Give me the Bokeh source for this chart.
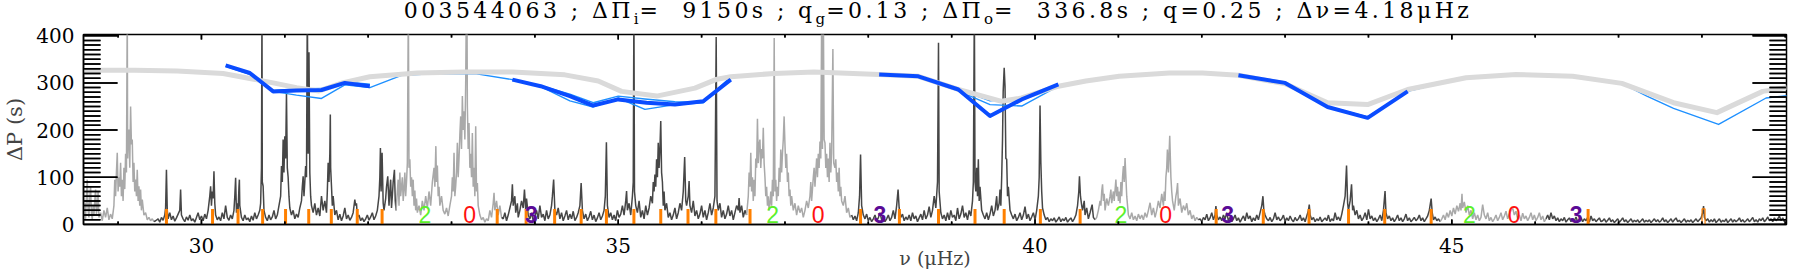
from bokeh.plotting import figure
from bokeh.models import Range1d, SingleIntervalTicker, ColumnDataSource, Div
from bokeh.layouts import column
from bokeh.core.properties import value
from bokeh.embed import file_html
from bokeh.resources import INLINE

NAN = float("nan")

# ---------------- data ----------------
# power spectrum, split in segments; kind "l02" = radial/quadrupole region (light), "l1" = dipole region (dark)
SEG_KIND = ["l02", "l1", "l02", "l1", "l02", "l1", "l02", "l1", "l02", "l1"]

SEG_0 = [(28.585, 15), (28.59, 20), (28.60, 45), (28.61, 12), (28.62, 60), (28.63, 95), (28.64, 30), (28.65, 15), (28.66, 55), (28.67, 81), (28.68, 25), (28.69, 10), (28.70, 40), (28.71, 18), (28.72, 50), (28.73, 74), (28.74, 22), (28.75, 35), (28.76, 71), (28.77, 15), (28.79, 25), (28.81, 8), (28.83, 30), (28.85, 15), (28.87, 35), (28.89, 10), (28.91, 22), (28.93, 12), (28.95, 40), (28.96, 95), (28.97, 60), (28.98, 110), (28.99, 152), (29.00, 70), (29.01, 100), (29.02, 80), (29.03, 131), (29.04, 60), (29.05, 95), (29.06, 50), (29.07, 120), (29.08, 75), (29.09, 150), (29.10, 110), (29.11, 460), (29.115, 140), (29.12, 180), (29.13, 201), (29.14, 120), (29.15, 250), (29.16, 170), (29.17, 180), (29.18, 90), (29.19, 131), (29.20, 70), (29.21, 95), (29.22, 60), (29.23, 116), (29.24, 50), (29.25, 81), (29.26, 40), (29.27, 74), (29.28, 30), (29.29, 53), (29.31, 20), (29.33, 25), (29.35, 10), (29.37, 15), (29.39, 8), (29.41, 12), (29.43, 6)]

SEG_1 = [(29.45, 8), (29.48, 12), (29.50, 5), (29.52, 15), (29.54, 9), (29.56, 20), (29.57, 35), (29.58, 116), (29.59, 30), (29.60, 12), (29.62, 25), (29.64, 10), (29.66, 18), (29.68, 7), (29.70, 14), (29.72, 22), (29.74, 30), (29.75, 74), (29.76, 20), (29.78, 12), (29.80, 6), (29.82, 16), (29.84, 9), (29.86, 20), (29.88, 8), (29.90, 12), (29.92, 5), (29.94, 15), (29.96, 25), (29.98, 10), (30.00, 18), (30.02, 8), (30.04, 22), (30.06, 12), (30.08, 30), (30.10, 60), (30.11, 81), (30.12, 40), (30.13, 70), (30.14, 55), (30.15, 113), (30.16, 45), (30.17, 20), (30.19, 10), (30.21, 16), (30.23, 8), (30.25, 25), (30.27, 12), (30.29, 40), (30.31, 15), (30.33, 9), (30.35, 20), (30.37, 12), (30.39, 30), (30.40, 60), (30.41, 99), (30.42, 25), (30.43, 45), (30.44, 30), (30.45, 80), (30.455, 95), (30.46, 40), (30.48, 15), (30.50, 8), (30.52, 20), (30.54, 10), (30.56, 14), (30.58, 6), (30.60, 18), (30.62, 9), (30.64, 25), (30.66, 12), (30.68, 20), (30.70, 30), (30.71, 45), (30.72, 120), (30.726, 470), (30.73, 90), (30.74, 81), (30.75, 30), (30.77, 15), (30.79, 8), (30.81, 20), (30.83, 10), (30.85, 16), (30.87, 30), (30.89, 12), (30.91, 20), (30.93, 40), (30.95, 60), (30.96, 124), (30.97, 90), (30.98, 180), (30.99, 110), (31.00, 187), (31.01, 140), (31.02, 279), (31.03, 120), (31.04, 100), (31.05, 60), (31.06, 35), (31.08, 20), (31.10, 30), (31.12, 12), (31.14, 22), (31.16, 15), (31.18, 35), (31.20, 50), (31.21, 80), (31.22, 102), (31.23, 60), (31.24, 90), (31.25, 124), (31.26, 100), (31.27, 470), (31.28, 150), (31.29, 365), (31.30, 110), (31.31, 60), (31.32, 40), (31.34, 25), (31.36, 45), (31.38, 20), (31.40, 35), (31.42, 18), (31.44, 60), (31.46, 30), (31.48, 50), (31.50, 25), (31.51, 70), (31.52, 131), (31.53, 90), (31.54, 150), (31.546, 233), (31.55, 120), (31.56, 81), (31.57, 40), (31.58, 60), (31.60, 20), (31.62, 30), (31.64, 10), (31.66, 22), (31.68, 8), (31.70, 18), (31.72, 35), (31.74, 12), (31.76, 20), (31.78, 9), (31.80, 15), (31.82, 25), (31.84, 53), (31.85, 40), (31.86, 45), (31.87, 15), (31.89, 20), (31.91, 8), (31.93, 14), (31.95, 6), (31.97, 12), (31.99, 20), (32.01, 9), (32.03, 16), (32.05, 25), (32.07, 10), (32.09, 18), (32.11, 30), (32.13, 60), (32.14, 100), (32.147, 162), (32.155, 70), (32.167, 152), (32.18, 45), (32.19, 30), (32.21, 55), (32.22, 80), (32.235, 102), (32.25, 40), (32.26, 70), (32.27, 95), (32.28, 35), (32.29, 60), (32.30, 90), (32.315, 116), (32.325, 50), (32.335, 30)]

SEG_2 = [(32.35, 70), (32.36, 95), (32.37, 40), (32.38, 110), (32.39, 60), (32.40, 80), (32.41, 100), (32.42, 50), (32.43, 75), (32.44, 110), (32.45, 60), (32.46, 90), (32.47, 130), (32.482, 470), (32.49, 120), (32.50, 138), (32.51, 80), (32.52, 100), (32.53, 60), (32.54, 95), (32.55, 40), (32.56, 72), (32.57, 30), (32.58, 55), (32.59, 25), (32.61, 40), (32.63, 20), (32.65, 50), (32.67, 30), (32.69, 60), (32.71, 35), (32.73, 70), (32.75, 40), (32.77, 90), (32.79, 120), (32.80, 80), (32.812, 166), (32.82, 90), (32.83, 125), (32.84, 60), (32.85, 80), (32.86, 40), (32.88, 60), (32.90, 30), (32.92, 22), (32.94, 35), (32.96, 18), (32.98, 40), (33.00, 60), (33.01, 100), (33.02, 70), (33.03, 152), (33.04, 60), (33.05, 81), (33.06, 110), (33.07, 173), (33.08, 100), (33.09, 140), (33.10, 190), (33.11, 229), (33.12, 160), (33.13, 272), (33.14, 200), (33.15, 240), (33.16, 180), (33.17, 300), (33.178, 470), (33.185, 470), (33.19, 251), (33.20, 160), (33.21, 215), (33.22, 120), (33.23, 150), (33.24, 100), (33.25, 194), (33.26, 80), (33.27, 120), (33.28, 60), (33.29, 208), (33.30, 70), (33.31, 88), (33.32, 40), (33.34, 20), (33.36, 10), (33.38, 15), (33.40, 5), (33.42, 12), (33.44, 8), (33.46, 30), (33.48, 15), (33.50, 45), (33.51, 67), (33.52, 30), (33.54, 50), (33.56, 20), (33.58, 40), (33.60, 15)]

SEG_3 = [(33.62, 12), (33.64, 25), (33.66, 8), (33.68, 20), (33.70, 35), (33.72, 50), (33.73, 85), (33.74, 40), (33.76, 60), (33.77, 25), (33.79, 45), (33.80, 15), (33.82, 30), (33.84, 50), (33.86, 35), (33.875, 74), (33.89, 30), (33.90, 55), (33.92, 20), (33.94, 12), (33.96, 25), (33.98, 8), (34.00, 18), (34.02, 30), (34.04, 12), (34.06, 40), (34.08, 15), (34.10, 22), (34.12, 8), (34.14, 30), (34.16, 12), (34.18, 20), (34.20, 40), (34.21, 60), (34.225, 95), (34.24, 30), (34.26, 20), (34.28, 35), (34.30, 12), (34.32, 25), (34.34, 8), (34.36, 18), (34.38, 30), (34.40, 10), (34.42, 22), (34.44, 12), (34.46, 28), (34.48, 8), (34.50, 15), (34.52, 25), (34.54, 40), (34.555, 88), (34.57, 30), (34.59, 12), (34.61, 22), (34.63, 8), (34.65, 16), (34.67, 28), (34.69, 10), (34.71, 20), (34.73, 6), (34.75, 14), (34.77, 25), (34.79, 10), (34.81, 18), (34.83, 30), (34.845, 60), (34.858, 174), (34.87, 40), (34.89, 15), (34.91, 25), (34.93, 10), (34.95, 20), (34.97, 8), (34.99, 30), (35.01, 15), (35.03, 22), (35.05, 40), (35.07, 20), (35.09, 50), (35.10, 71), (35.11, 30), (35.13, 45), (35.15, 20), (35.17, 60), (35.18, 90), (35.188, 470), (35.195, 70), (35.21, 40), (35.23, 25), (35.25, 50), (35.27, 15), (35.29, 30), (35.31, 12), (35.33, 40), (35.35, 20), (35.37, 35), (35.39, 60), (35.41, 45), (35.42, 90), (35.43, 70), (35.44, 106), (35.45, 80), (35.46, 138), (35.47, 100), (35.48, 173), (35.49, 120), (35.50, 160), (35.51, 219), (35.52, 110), (35.53, 90), (35.54, 40), (35.55, 70), (35.56, 30), (35.58, 45), (35.60, 15), (35.62, 25), (35.64, 10), (35.66, 20), (35.68, 35), (35.70, 12), (35.72, 25), (35.74, 45), (35.76, 30), (35.78, 70), (35.797, 143), (35.81, 50), (35.82, 40), (35.84, 60), (35.85, 92), (35.86, 40), (35.88, 25), (35.90, 50), (35.92, 18), (35.94, 30), (35.96, 12), (35.98, 22), (36.00, 40), (36.02, 15), (36.04, 30), (36.06, 10), (36.08, 25), (36.10, 45), (36.12, 20), (36.14, 35), (36.16, 60), (36.175, 397), (36.185, 50), (36.20, 30), (36.22, 45), (36.24, 15), (36.26, 30), (36.28, 12), (36.30, 22), (36.32, 40), (36.34, 18), (36.36, 30), (36.38, 10), (36.40, 25), (36.42, 40), (36.44, 30), (36.45, 56), (36.46, 25), (36.48, 40), (36.50, 15), (36.52, 30), (36.54, 20)]

SEG_4 = [(36.56, 60), (36.57, 110), (36.58, 80), (36.59, 152), (36.60, 70), (36.61, 100), (36.62, 50), (36.63, 95), (36.64, 60), (36.65, 140), (36.66, 120), (36.67, 224), (36.68, 130), (36.69, 170), (36.70, 180), (36.71, 120), (36.72, 160), (36.73, 140), (36.74, 205), (36.75, 130), (36.76, 100), (36.77, 60), (36.78, 80), (36.79, 40), (36.80, 60), (36.81, 30), (36.82, 45), (36.83, 70), (36.84, 40), (36.85, 95), (36.86, 60), (36.871, 395), (36.88, 70), (36.89, 95), (36.90, 50), (36.91, 80), (36.92, 60), (36.93, 120), (36.94, 90), (36.95, 159), (36.96, 110), (36.97, 150), (36.98, 180), (36.99, 229), (37.00, 170), (37.01, 120), (37.02, 150), (37.03, 90), (37.04, 110), (37.05, 60), (37.06, 74), (37.07, 40), (37.08, 60), (37.10, 30), (37.12, 45), (37.14, 20), (37.16, 40), (37.18, 25), (37.20, 35), (37.22, 15), (37.24, 30), (37.26, 50), (37.28, 35), (37.30, 60), (37.31, 90), (37.32, 50), (37.33, 75), (37.34, 100), (37.35, 120), (37.36, 80), (37.37, 110), (37.38, 140), (37.39, 100), (37.40, 150), (37.41, 120), (37.42, 176), (37.43, 140), (37.441, 470), (37.45, 160), (37.46, 470), (37.47, 180), (37.48, 173), (37.49, 120), (37.50, 150), (37.51, 100), (37.52, 140), (37.53, 90), (37.54, 173), (37.55, 110), (37.56, 150), (37.575, 372), (37.585, 130), (37.60, 120), (37.61, 138), (37.62, 90), (37.63, 110), (37.64, 70), (37.65, 120), (37.66, 60), (37.67, 80), (37.68, 50), (37.70, 40), (37.72, 60), (37.74, 25), (37.76, 35), (37.78, 15), (37.80, 20)]

SEG_5 = [(37.82, 10), (37.84, 18), (37.86, 8), (37.88, 25), (37.895, 60), (37.907, 148), (37.92, 40), (37.94, 20), (37.96, 12), (37.98, 22), (38.00, 8), (38.02, 15), (38.04, 6), (38.06, 12), (38.08, 20), (38.10, 8), (38.12, 14), (38.14, 25), (38.16, 10), (38.18, 18), (38.20, 6), (38.22, 12), (38.24, 20), (38.26, 8), (38.28, 15), (38.30, 30), (38.32, 12), (38.34, 40), (38.357, 74), (38.37, 35), (38.39, 15), (38.41, 22), (38.43, 8), (38.45, 16), (38.47, 10), (38.49, 20), (38.51, 8), (38.53, 25), (38.55, 12), (38.57, 18), (38.59, 6), (38.61, 14), (38.63, 22), (38.65, 10), (38.67, 30), (38.69, 12), (38.71, 20), (38.73, 38), (38.75, 15), (38.77, 30), (38.79, 60), (38.81, 35), (38.83, 90), (38.842, 385), (38.85, 70), (38.87, 25), (38.89, 12), (38.91, 20), (38.93, 8), (38.95, 25), (38.97, 10), (38.99, 30), (39.01, 15), (39.03, 20), (39.05, 8), (39.07, 35), (39.09, 12), (39.11, 22), (39.13, 40), (39.15, 15), (39.17, 25), (39.19, 10), (39.21, 30), (39.23, 18), (39.25, 50), (39.26, 90), (39.272, 470), (39.28, 90), (39.29, 70), (39.30, 120), (39.31, 60), (39.32, 138), (39.33, 50), (39.34, 80), (39.36, 30), (39.38, 20), (39.40, 12), (39.42, 25), (39.44, 10), (39.46, 22), (39.48, 40), (39.50, 18), (39.52, 30), (39.54, 60), (39.55, 30), (39.57, 45), (39.58, 74), (39.59, 40), (39.60, 100), (39.61, 180), (39.618, 282), (39.63, 332), (39.64, 293), (39.65, 140), (39.66, 138), (39.67, 60), (39.68, 80), (39.70, 30), (39.72, 20), (39.74, 12), (39.76, 22), (39.78, 8), (39.80, 15), (39.82, 25), (39.84, 10), (39.86, 20), (39.88, 38), (39.90, 12), (39.92, 22), (39.94, 8), (39.96, 16), (39.98, 25), (40.00, 10), (40.02, 30), (40.04, 60), (40.05, 100), (40.06, 252), (40.07, 130), (40.08, 70), (40.09, 35), (40.11, 20), (40.13, 10), (40.15, 15), (40.17, 6), (40.19, 12), (40.21, 8), (40.23, 14), (40.25, 5), (40.27, 10), (40.29, 16), (40.31, 6), (40.33, 12), (40.35, 8), (40.37, 15), (40.39, 5), (40.41, 10), (40.43, 14), (40.45, 6), (40.47, 12), (40.49, 20), (40.51, 40), (40.525, 70), (40.533, 102), (40.545, 60), (40.56, 40), (40.57, 30), (40.59, 50), (40.60, 20), (40.62, 35), (40.64, 12), (40.66, 25), (40.685, 42), (40.70, 15), (40.72, 10)]

SEG_6 = [(40.74, 15), (40.76, 30), (40.78, 50), (40.79, 40), (40.80, 70), (40.81, 85), (40.82, 50), (40.83, 65), (40.84, 30), (40.86, 55), (40.88, 40), (40.90, 60), (40.91, 74), (40.92, 45), (40.94, 70), (40.95, 50), (40.97, 95), (40.98, 60), (40.99, 80), (41.00, 50), (41.01, 70), (41.02, 45), (41.03, 90), (41.04, 60), (41.05, 100), (41.06, 124), (41.07, 90), (41.08, 141), (41.09, 100), (41.10, 60), (41.11, 40), (41.12, 20), (41.14, 12), (41.16, 25), (41.18, 10), (41.20, 18), (41.22, 8), (41.24, 22), (41.26, 12), (41.28, 20), (41.30, 10), (41.32, 25), (41.34, 15), (41.36, 30), (41.38, 46), (41.40, 20), (41.42, 35), (41.44, 15), (41.46, 30), (41.48, 50), (41.50, 35), (41.52, 65), (41.54, 40), (41.55, 70), (41.56, 50), (41.57, 100), (41.58, 120), (41.588, 159), (41.60, 110), (41.616, 188), (41.63, 100), (41.64, 70), (41.65, 50), (41.67, 30), (41.69, 60), (41.70, 70), (41.71, 88), (41.72, 40), (41.74, 55), (41.76, 25), (41.78, 40), (41.80, 30), (41.82, 45), (41.84, 20), (41.86, 30), (41.88, 12), (41.90, 20), (41.92, 8), (41.94, 15), (41.96, 10)]

SEG_7 = [(41.98, 12), (42.00, 6), (42.02, 15), (42.04, 10), (42.06, 22), (42.08, 8), (42.10, 14), (42.12, 25), (42.14, 10), (42.16, 20), (42.17, 39), (42.18, 20), (42.20, 10), (42.22, 16), (42.24, 8), (42.26, 20), (42.28, 12), (42.30, 25), (42.32, 8), (42.34, 15), (42.36, 6), (42.38, 12), (42.40, 20), (42.42, 8), (42.44, 14), (42.46, 5), (42.48, 12), (42.50, 18), (42.52, 8), (42.54, 25), (42.56, 12), (42.58, 18), (42.60, 6), (42.62, 14), (42.64, 8), (42.66, 20), (42.68, 10), (42.70, 25), (42.72, 40), (42.734, 60), (42.745, 30), (42.76, 20), (42.78, 12), (42.80, 8), (42.82, 15), (42.84, 6), (42.86, 12), (42.88, 25), (42.90, 10), (42.92, 16), (42.94, 8), (42.96, 12), (42.98, 20), (43.00, 6), (43.02, 14), (43.04, 8), (43.06, 18), (43.08, 10), (43.10, 6), (43.12, 15), (43.14, 8), (43.16, 12), (43.18, 20), (43.20, 8), (43.22, 14), (43.24, 6), (43.26, 18), (43.28, 30), (43.29, 42), (43.30, 20), (43.32, 10), (43.34, 15), (43.36, 6), (43.38, 12), (43.40, 8), (43.42, 16), (43.44, 6), (43.46, 10), (43.48, 14), (43.50, 8), (43.52, 20), (43.54, 6), (43.56, 12), (43.58, 8), (43.60, 25), (43.62, 10), (43.64, 16), (43.66, 8), (43.68, 22), (43.70, 40), (43.72, 60), (43.737, 125), (43.75, 45), (43.76, 30), (43.78, 50), (43.797, 85), (43.81, 30), (43.82, 40), (43.84, 20), (43.86, 30), (43.88, 12), (43.90, 20), (43.92, 8), (43.94, 14), (43.96, 25), (43.98, 10), (44.00, 32), (44.02, 12), (44.04, 18), (44.06, 8), (44.08, 14), (44.10, 6), (44.12, 12), (44.14, 20), (44.16, 8), (44.18, 30), (44.199, 71), (44.21, 25), (44.23, 12), (44.25, 18), (44.27, 8), (44.29, 14), (44.31, 6), (44.33, 12), (44.35, 20), (44.37, 8), (44.39, 14), (44.41, 6), (44.43, 12), (44.45, 22), (44.47, 8), (44.49, 14), (44.51, 6), (44.53, 10), (44.55, 15), (44.57, 8), (44.59, 12), (44.61, 20), (44.63, 8), (44.65, 14), (44.67, 6), (44.69, 12), (44.71, 18), (44.73, 30), (44.752, 55), (44.765, 25), (44.78, 10), (44.80, 16), (44.82, 8), (44.84, 12), (44.86, 6)]

SEG_8 = [(44.88, 12), (44.90, 20), (44.92, 10), (44.94, 25), (44.96, 15), (44.98, 30), (45.00, 18), (45.02, 35), (45.04, 22), (45.06, 40), (45.08, 28), (45.10, 45), (45.11, 30), (45.122, 65), (45.13, 35), (45.15, 48), (45.17, 25), (45.19, 40), (45.21, 20), (45.23, 30), (45.25, 12), (45.27, 25), (45.29, 10), (45.31, 20), (45.33, 8), (45.35, 15), (45.37, 42), (45.39, 20), (45.41, 12), (45.43, 25), (45.45, 8), (45.47, 15), (45.49, 6), (45.51, 12), (45.53, 20), (45.55, 8), (45.57, 15), (45.59, 25), (45.61, 10), (45.63, 18), (45.65, 28), (45.67, 12), (45.69, 22), (45.71, 30), (45.73, 35), (45.75, 20), (45.77, 28), (45.79, 12), (45.81, 20), (45.83, 8), (45.85, 24), (45.87, 12), (45.89, 18), (45.91, 8), (45.93, 15), (45.95, 25), (45.97, 10), (45.99, 20), (46.01, 8), (46.03, 15), (46.05, 25), (46.07, 10), (46.09, 18), (46.11, 6), (46.13, 12)]

SEG_9 = [(46.15, 20), (46.17, 10), (46.19, 25), (46.21, 12), (46.23, 18), (46.25, 8), (46.27, 14), (46.29, 6), (46.31, 12), (46.33, 8), (46.35, 15), (46.37, 5), (46.39, 10), (46.41, 14), (46.43, 6), (46.45, 12), (46.47, 8), (46.49, 16), (46.51, 6), (46.53, 10), (46.55, 14), (46.57, 6), (46.59, 12), (46.61, 8), (46.63, 15), (46.65, 5), (46.67, 18), (46.69, 8), (46.71, 12), (46.73, 6), (46.75, 10), (46.77, 14), (46.79, 6), (46.81, 8), (46.83, 12), (46.85, 5), (46.87, 9), (46.89, 14), (46.91, 6), (46.93, 10), (46.95, 4), (46.97, 8), (46.99, 12), (47.01, 5), (47.03, 9), (47.05, 14), (47.07, 6), (47.09, 10), (47.11, 4), (47.13, 8), (47.15, 12), (47.17, 5), (47.19, 9), (47.21, 6), (47.23, 10), (47.25, 4), (47.27, 8), (47.29, 12), (47.31, 5), (47.33, 9), (47.35, 6), (47.37, 10), (47.39, 4), (47.41, 8), (47.43, 12), (47.45, 6), (47.47, 10), (47.49, 5), (47.51, 8), (47.53, 14), (47.55, 6), (47.57, 10), (47.59, 4), (47.61, 8), (47.63, 12), (47.65, 5), (47.67, 10), (47.69, 14), (47.71, 6), (47.73, 9), (47.75, 4), (47.77, 8), (47.79, 12), (47.81, 5), (47.83, 9), (47.85, 6), (47.87, 10), (47.89, 4), (47.91, 8), (47.93, 12), (47.95, 6), (47.97, 10), (47.99, 14), (48.01, 25), (48.02, 39), (48.03, 15), (48.05, 8), (48.07, 12), (48.09, 5), (48.11, 10), (48.13, 6), (48.15, 12), (48.17, 4), (48.19, 8), (48.21, 12), (48.23, 5), (48.25, 9), (48.27, 6), (48.29, 12), (48.31, 4), (48.33, 8), (48.35, 12), (48.37, 5), (48.39, 10), (48.41, 6), (48.43, 9), (48.45, 14), (48.47, 6), (48.49, 10), (48.51, 5), (48.53, 8), (48.55, 12), (48.57, 6), (48.59, 10), (48.61, 15), (48.63, 6), (48.65, 10), (48.67, 5), (48.69, 12), (48.71, 8), (48.73, 14), (48.75, 6), (48.77, 10), (48.79, 16), (48.81, 8), (48.83, 12), (48.85, 6), (48.87, 14), (48.89, 8), (48.91, 12), (48.93, 18), (48.95, 8), (48.97, 14), (48.99, 6), (49.01, 12)]

SEGMENTS = [SEG_0, SEG_1, SEG_2, SEG_3, SEG_4, SEG_5, SEG_6, SEG_7, SEG_8, SEG_9]

# expected dipole mixed-mode frequencies (orange marks)
MIXED_NU = [29.580, 30.133, 30.439, 30.734, 31.009, 31.287, 31.558, 31.869, 32.167, 33.548, 33.895, 34.237,
            34.555, 34.858, 35.188, 35.510, 35.837, 36.171, 36.581, 37.907, 38.373, 38.842, 39.280, 39.630,
            40.064, 40.541, 42.173, 42.738, 43.287, 43.761, 44.195, 44.752, 46.635]
MIXED_NU_OPEN = [48.020]
MIXED_HEIGHT = 33

# degree labels
DEG_NU = [32.681, 33.218, 33.958, 36.851, 37.397, 38.138, 41.031, 41.568, 42.312, 45.210, 45.747, 46.492]
DEG_L = ["2", "0", "3", "2", "0", "3", "2", "0", "3", "2", "0", "3"]
DEG_Y = 21

# period spacing: model (grey), observed (thick blue), other components (thin blue)
MODEL_NU = [28.585, 29.20, 29.71, 30.26, 30.86, 31.14, 31.41, 31.69, 32.02, 32.59, 33.15, 33.73, 34.36, 34.76, 35.04,
            35.46, 35.92, 36.17, 36.35, 36.87, 37.35, 38.13, 38.60, 39.08, 39.60, 39.84, 40.28, 40.61, 41.01, 41.61,
            42.01, 42.44, 43.00, 43.51, 43.99, 44.47, 45.17, 45.77, 46.45, 47.04, 47.66, 48.18, 48.73, 49.02]
MODEL_DP = [327, 327, 325, 320, 300, 290, 283, 300, 313, 321, 323, 323, 317, 304, 282,
            272, 289, 307, 313, 320, 323, 318, 314, 286, 261, 268, 293, 304, 314, 321,
            321, 316, 298, 258, 254, 286, 311, 318, 314, 299, 258, 237, 282, 290]

OBS_NU = [30.29, 30.58, 30.86, 31.14, 31.44, 31.72, 32.02, NAN,
          33.73, 34.07, 34.42, 34.70, 35.00, 35.34, 35.68, 36.02, 36.35, NAN,
          38.13, 38.60, 39.08, 39.46, 39.84, 40.28, NAN,
          42.44, 43.00, 43.51, 43.99, 44.47]
OBS_DP = [337, 321, 282, 284, 285, 300, 293, NAN,
          307, 293, 272, 252, 265, 258, 254, 261, 307, NAN,
          318, 314, 286, 230, 265, 297, NAN,
          316, 300, 249, 226, 282]

THIN_A_NU = [30.29, 30.58, 30.86, 31.14, 31.44, 31.72, 32.02, 32.40, 32.83, 33.30, 33.73, 34.07, 34.42, 34.70, 35.00,
             35.32, 35.68, 36.02, 36.35, 36.87, 37.35, 38.13, 38.60, 39.08, 39.46, 39.84, 40.28, 40.61, 41.01, 41.61,
             42.01, 42.44, 43.00, 43.51, 43.99, 44.47, 45.17, 45.77, 46.45, 47.04, 47.34, 47.66, 48.20, 48.77, 49.02]
THIN_A_DP = [335, 318, 282, 274, 267, 296, 290, 316, 320, 319, 307, 292, 262, 249, 268,
             244, 254, 258, 313, 320, 322, 317, 313, 283, 254, 251, 293, 305, 316, 322,
             322, 314, 298, 250, 228, 282, 312, 318, 315, 299, 272, 246, 212, 268, 273]

THIN_B_NU = [30.86, 31.14, 31.44, 31.72, 32.02, NAN, 33.73, 34.07, 34.42, 34.70, 35.00, 35.32, 35.68, 36.02, 36.35, NAN,
             38.60, 39.08, 39.46, 39.84, 40.28]
THIN_B_DP = [284, 287, 288, 302, 297, NAN, 307, 294, 276, 258, 272, 266, 260, 259, 309, NAN,
             314, 287, 262, 268, 295]

# title values
STAR_ID = "003544063"
DPI_IN, QG, DPI_OUT, Q, DNU = "9150s", "0.13", "336.8s", "0.25", "4.18"

# ---------------- layout constants ----------------
X0, X1 = 28.585, 49.015
Y0, Y1 = 0.0, 402.5
FRAME_W, FRAME_H = 1703, 190
SERIF = "DejaVu Serif"

p = figure(frame_width=FRAME_W, frame_height=FRAME_H, x_range=Range1d(X0, X1), y_range=Range1d(Y0, Y1),
           output_backend="svg", toolbar_location=None, title=None,
           min_border_left=78, min_border_right=2, min_border_top=12, min_border_bottom=47,
           background_fill_color="white", border_fill_color=None)
p.xgrid.visible = False
p.ygrid.visible = False
p.outline_line_color = "black"
p.outline_line_width = 1.5

xa = p.xaxis[0]
xa.ticker = SingleIntervalTicker(interval=5, num_minor_ticks=5)
xa.major_tick_in = 0
xa.major_tick_out = 0
xa.minor_tick_in = 0
xa.minor_tick_out = 0
xa.major_tick_line_color = None
xa.minor_tick_line_color = None
xa.axis_line_color = "black"
xa.axis_line_width = 1.5
xa.major_label_text_font = SERIF
xa.major_label_text_font_size = "20px"
xa.major_label_text_color = "black"
xa.major_label_standoff = 13
xa.axis_label = "ν (μHz)"
xa.axis_label_text_font = SERIF
xa.axis_label_text_font_size = "19px"
xa.axis_label_text_font_style = "normal"
xa.axis_label_standoff = -9

ya = p.yaxis[0]
ya.ticker = SingleIntervalTicker(interval=100, num_minor_ticks=10)
ya.major_tick_in = 0
ya.major_tick_out = 0
ya.minor_tick_in = 0
ya.minor_tick_out = 0
ya.major_tick_line_color = None
ya.minor_tick_line_color = None
ya.axis_line_color = "black"
ya.axis_line_width = 1.5
ya.major_label_text_font = SERIF
ya.major_label_text_font_size = "20px"
ya.major_label_text_color = "black"
ya.major_label_standoff = 9
ya.axis_label = "ΔP (s)"
ya.axis_label_text_font = SERIF
ya.axis_label_text_font_size = "21px"
ya.axis_label_text_font_style = "normal"
ya.axis_label_standoff = 6

# spectrum segments
COLORS = {"l02": "#a9a9a9", "l1": "#464646"}
xs, ys, cols = [], [], []
prev = None
for kind, seg in zip(SEG_KIND, SEGMENTS):
    pts = ([prev] if prev is not None else []) + seg
    xs.append([a for a, b in pts])
    ys.append([b for a, b in pts])
    cols.append(COLORS[kind])
    prev = seg[-1]
p.multi_line(xs="xs", ys="ys", line_color="c", line_width=1.5,
             source=ColumnDataSource(dict(xs=xs, ys=ys, c=cols)))

# mixed mode markers
p.vbar(x=MIXED_NU, top=MIXED_HEIGHT, bottom=0, width=0.036, fill_color="#ff8000", line_color=None)
p.vbar(x=MIXED_NU_OPEN, top=MIXED_HEIGHT, bottom=0, width=0.036, fill_color=None,
       line_color="#ff8000", line_width=1.2)

# degree labels
DEG_COL = {"0": "#ff1010", "2": "#5cf02a", "3": "#5a0a96"}
for style, wanted in (("normal", ("0", "2")), ("bold", ("3",))):
    sx = [n for n, l in zip(DEG_NU, DEG_L) if l in wanted]
    st = [l for l in DEG_L if l in wanted]
    sc = [DEG_COL[l] for l in st]
    p.text(x="x", y="y", text="t", text_color="c",
           source=ColumnDataSource(dict(x=sx, y=[DEG_Y] * len(sx), t=st, c=sc)),
           text_font=value("Liberation Sans"), text_font_size=value("23px"),
           text_font_style=style, text_align="center", text_baseline="alphabetic")

# period spacing curves
p.line(THIN_A_NU, THIN_A_DP, line_color="#1e90ff", line_width=1.4, line_join="round")
p.line(THIN_B_NU, THIN_B_DP, line_color="#1e90ff", line_width=1.4, line_join="round")
p.line(MODEL_NU, MODEL_DP, line_color="#dadada", line_width=5, line_join="round")
p.line(OBS_NU, OBS_DP, line_color="#0a4cff", line_width=4, line_join="round")

# inward ticks on all four sides (IDL style); lengths in pixels, slightly inset from the frame edge
dx_px = (X1 - X0) / FRAME_W
dy_px = (Y1 - Y0) / FRAME_H
INSET = 0.6
yt_major = [float(v) for v in range(0, 401, 100)]
yt_minor = [float(v) for v in range(10, 400, 10) if v % 100]
xt_major = [float(v) for v in range(29, 50) if v % 5 == 0]
xt_minor = [float(v) for v in range(29, 50) if v % 5]

hb_y, hb_l, hb_r = [], [], []
for vals, L in ((yt_major, 34), (yt_minor, 17)):
    for v in vals:
        hb_y += [v, v]
        hb_l += [X0 + INSET * dx_px, X1 - L * dx_px]
        hb_r += [X0 + L * dx_px, X1 - INSET * dx_px]
p.hbar(y=hb_y, left=hb_l, right=hb_r, height=1.5 * dy_px, fill_color="black", line_color=None)
vb_x, vb_b, vb_t = [], [], []
for vals, L in ((xt_major, 5), (xt_minor, 3)):
    for v in vals:
        vb_x += [v, v]
        vb_b += [Y0 + INSET * dy_px, Y1 - L * dy_px]
        vb_t += [Y0 + L * dy_px, Y1 - INSET * dy_px]
p.vbar(x=vb_x, bottom=vb_b, top=vb_t, width=1.5 * dx_px, fill_color="black", line_color=None)

# same ticks again as line segments, colour taken from a column like the spectrum
t_xs, t_ys = [], []
for y, l, r in zip(hb_y, hb_l, hb_r):
    t_xs.append([l, r])
    t_ys.append([y, y])
for x, b, t in zip(vb_x, vb_b, vb_t):
    t_xs.append([x, x])
    t_ys.append([b, t])
p.multi_line(xs="xs", ys="ys", line_color="c", line_width=1.5,
             source=ColumnDataSource(dict(xs=t_xs, ys=t_ys, c=["#000000"] * len(t_xs))))

# title with subscripts
sub = '<span style="font-size:15px;vertical-align:-6px;letter-spacing:1px">%s</span>'
title_html = (STAR_ID + " ; ΔΠ" + sub % "i" + "=&nbsp; " + DPI_IN + " ; q" + sub % "g" + "=" + QG +
              " ; ΔΠ" + sub % "o" + "=&nbsp; " + DPI_OUT + " ; q=" + Q + " ; Δν=" + DNU + "μHz")
title = Div(text=title_html, width=FRAME_W + 80, height=12,
            styles={"font-family": SERIF, "font-size": "22px", "line-height": "12px",
                    "letter-spacing": "3.4px", "white-space": "nowrap", "color": "black",
                    "text-align": "center", "text-indent": "83px", "overflow": "visible"})

layout = column(title, p, spacing=0)
open("out.html", "w").write(file_html(layout, INLINE))
